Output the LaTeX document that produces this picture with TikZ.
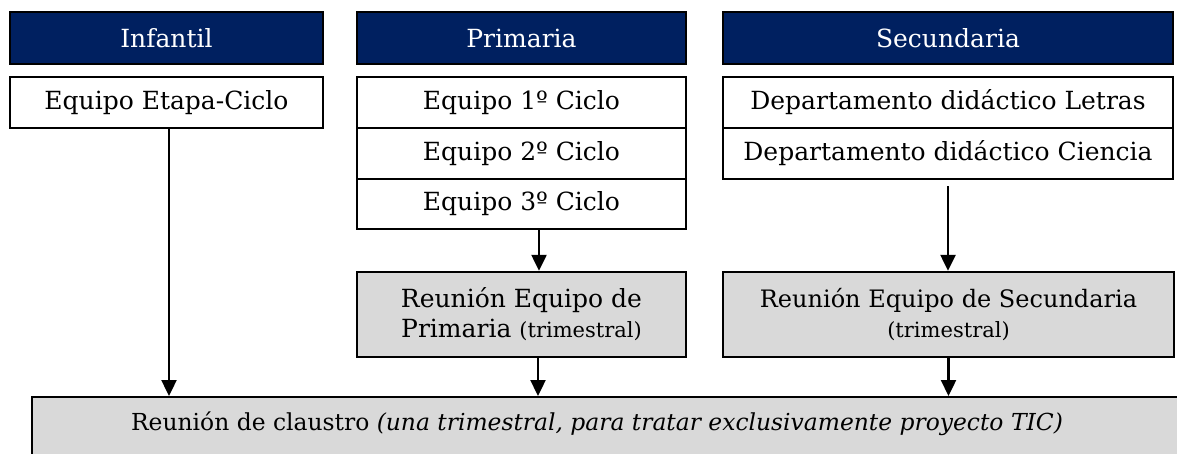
\documentclass[tikz,border=0pt]{standalone}
\usepackage{fontspec}
\setmainfont{DejaVu Serif}
\usetikzlibrary{arrows.meta}

\definecolor{navy}{HTML}{002060}
\definecolor{gris}{HTML}{D9D9D9}

\tikzset{
    caja/.style   = {draw, line width=2.4pt, rectangle, inner sep=0pt, align=center},
    cabecera/.style = {caja, fill=navy, text=white, minimum height=52pt},
    equipo/.style = {caja, fill=white, minimum height=51pt},
    reunion/.style = {caja, fill=gris, minimum height=85pt},
    flecha/.style = {line width=2.4pt, -{Triangle[width=15pt, length=16pt]}},
}

\begin{document}
\begin{tikzpicture}[x=1pt, y=-1pt, font=\fontsize{25}{30}\selectfont]
        \useasboundingbox (0, 0) rectangle (1177, 454);
        \clip (0, 0) rectangle (1177, 454);

        \node[cabecera, minimum width=313pt] (inf) at (166.5, 38) {Infantil};
        \node[cabecera, minimum width=329pt] (pri) at (521.5, 38) {Primaria};
        \node[cabecera, minimum width=450pt] (sec) at (948, 38) {Secundaria};

        \node[equipo, minimum width=313pt] (infEq) at (166.5, 102.5) {Equipo Etapa-Ciclo};
        \node[equipo, minimum width=329pt] (p1) at (521.5, 102.5) {Equipo 1º Ciclo};
        \node[equipo, minimum width=329pt] (p2) at (521.5, 153.5) {Equipo 2º Ciclo};
        \node[equipo, minimum width=329pt, minimum height=50pt] (p3) at (521.5, 204) {Equipo 3º Ciclo};
        \node[equipo, minimum width=450pt] (s1) at (948, 102.5) {Departamento didáctico Letras};
        \node[equipo, minimum width=450pt] (s2) at (948, 153.5) {Departamento didáctico Ciencia};

        \node[reunion, minimum width=329pt] (rp) at (521.5, 314.5)
            {Reunión Equipo de\\Primaria {\fontsize{21}{30}\selectfont(trimestral)}};
        \node[reunion, minimum width=451pt, font=\fontsize{24}{30}\selectfont] (rs) at (948.5, 314.5)
            {Reunión Equipo de Secundaria\\{\fontsize{21}{30}\selectfont(trimestral)}};

        \node[reunion, anchor=north west, minimum width=1169pt, minimum height=74pt] (cl) at (31, 396) {};
        \node[font=\fontsize{23.4}{30}\selectfont] (clt) at (597, 424)
            {Reunión de claustro \textit{(una trimestral, para tratar exclusivamente proyecto TIC)}};

        \draw[flecha] ([xshift=2.5pt]infEq.south) -- ([xshift=2.5pt]infEq.south |- cl.north);
        \draw[flecha] ([xshift=17.5pt]p3.south) -- ([xshift=17.5pt]rp.north);
        \draw[flecha] ([xshift=16.5pt]rp.south) -- ([xshift=16.5pt]rp.south |- cl.north);
        \draw[flecha, shorten <=6pt] (s2.south) -- (s2.south |- rs.north);
        \draw[flecha] (rs.south) -- (rs.south |- cl.north);
    \end{tikzpicture}
\end{document}
